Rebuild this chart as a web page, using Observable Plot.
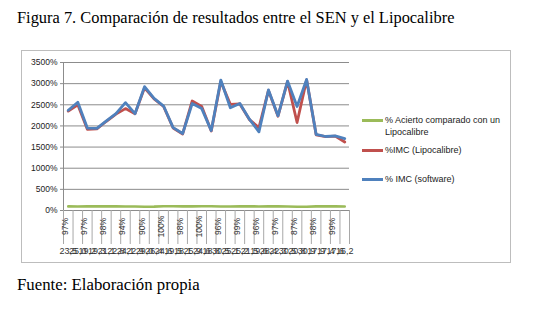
<!DOCTYPE html>
<html>
<head>
<meta charset="utf-8">
<script src="https://cdn.jsdelivr.net/npm/d3@7"></script>
<script src="https://cdn.jsdelivr.net/npm/@observablehq/plot@0.6"></script>
<style>
  html, body { margin: 0; padding: 0; background: #fff; }
  body { width: 534px; height: 313px; position: relative; overflow: hidden; }
  .title { position: absolute; left: 17px; top: 8px; font: 16.4px "Liberation Serif", serif; color: #000; white-space: nowrap; line-height: 20px; }
  .caption { position: absolute; left: 17px; top: 275px; font: 16.8px "Liberation Serif", serif; color: #000; white-space: nowrap; line-height: 20px; }
  #chart { position: absolute; left: 21px; top: 50px; }
  #chart svg { border: 1px solid #bdbdbd; display: block; }
  .legend { position: absolute; left: 362px; top: 0; font: 9px "Liberation Sans", sans-serif; color: #222; }
  .item { position: absolute; left: 0; white-space: nowrap; }
  .sw { position: absolute; left: 0; width: 21px; height: 3px; }
  .lt { position: absolute; left: 23px; line-height: 12px; }
</style>
</head>
<body>
<div class="title">Figura 7. Comparación de resultados entre el SEN y el Lipocalibre</div>
<div id="chart"></div>
<div class="caption">Fuente: Elaboración propia</div>
<script>
// % Acierto comparado con un Lipocalibre (one value per case)
const acierto = [97, 96, 97, 98, 98, 97, 94, 95, 90, 92, 100, 99, 98, 97, 100, 99, 96, 95, 99, 98, 96, 97, 97, 96, 87, 90, 98, 97, 99, 96];
// %IMC (Lipocalibre)
const imcLipocalibre = [2350, 2500, 1920, 1930, 2110, 2280, 2410, 2290, 2900, 2640, 2460, 1950, 1810, 2590, 2460, 1880, 3050, 2510, 2520, 2150, 1960, 2840, 2230, 3050, 2080, 3090, 1790, 1745, 1760, 1620];
// % IMC (software)
const imcSoftware = [2370, 2560, 1950, 1940, 2120, 2290, 2550, 2290, 2930, 2650, 2470, 1960, 1820, 2530, 2410, 1890, 3085, 2430, 2530, 2160, 1860, 2850, 2240, 3060, 2460, 3100, 1800, 1750, 1765, 1700];
// second-level category labels (IMC values)
const imcText = ["23,5", "25,0", "19,2", "19,3", "21,1", "22,8", "24,1", "22,9", "29,0", "26,4", "24,6", "19,5", "18,1", "25,9", "24,6", "18,8", "30,5", "25,1", "25,2", "21,5", "19,6", "28,4", "22,3", "30,5", "20,8", "30,9", "17,9", "17,4", "17,6", "16,2"];
const yTicks = [0, 500, 1000, 1500, 2000, 2500, 3000, 3500];

const n = acierto.length;
const idx = d3.range(n);
const labelIdx = idx.filter(i => i % 2 === 0);
const boundaries = d3.range(n + 1);

const grid = "#8c8c8c";
const chart = Plot.plot({
  width: 488,
  height: 211,
  marginLeft: 41,
  marginRight: 161,
  marginTop: 11,
  marginBottom: 52,
  style: { fontFamily: "Liberation Sans, sans-serif", fontSize: "8.5px", color: "#222", background: "#fff", overflow: "visible" },
  x: { type: "linear", domain: [0, n] },
  y: { domain: [0, 3500] },
  marks: [
    Plot.gridY(yTicks, { stroke: grid, strokeOpacity: 1, strokeWidth: 1 }),
    Plot.axisY(yTicks, { tickSize: 3, tickPadding: 3, stroke: grid, tickFormat: d => d + "%", label: null }),
    Plot.ruleX([0], { stroke: grid }),
    Plot.axisX(boundaries, { tickSize: 34, stroke: "#a8a8a8", tickFormat: () => "", label: null }),
    Plot.text(labelIdx, { x: i => i + 0.5, text: i => acierto[i] + "%", frameAnchor: "bottom", dy: 16, rotate: -90, textAnchor: "middle", fill: "#333", fontSize: 8.5 }),
    Plot.text(idx, { x: i => i + 0.5, text: i => imcText[i], frameAnchor: "bottom", dy: 43, fill: "#333", fontSize: 9 }),
    Plot.line(idx, { x: i => i + 0.5, y: i => acierto[i], stroke: "#9bbb59", strokeWidth: 2.6, strokeLinejoin: "round" }),
    Plot.line(idx, { x: i => i + 0.5, y: i => imcLipocalibre[i], stroke: "#c0504d", strokeWidth: 2.8, strokeLinejoin: "round" }),
    Plot.line(idx, { x: i => i + 0.5, y: i => imcSoftware[i], stroke: "#4f81bd", strokeWidth: 2.8, strokeLinejoin: "round" })
  ]
});
const host = document.getElementById("chart");
host.appendChild(chart);

// legend (positions in chart container coordinates)
const legendItems = [
  { lines: ["% Acierto comparado con un", "Lipocalibre"], color: "#9bbb59", y: 70 },
  { lines: ["%IMC (Lipocalibre)"], color: "#c0504d", y: 100 },
  { lines: ["% IMC (software)"], color: "#4f81bd", y: 129 }
];
const leg = document.createElement("div");
leg.className = "legend";
leg.style.left = "341px";
for (const it of legendItems) {
  const d = document.createElement("div");
  d.className = "item";
  d.style.top = it.y + "px";
  const sw = document.createElement("div");
  sw.className = "sw";
  sw.style.background = it.color;
  sw.style.top = "-1px";
  d.appendChild(sw);
  const t = document.createElement("div");
  t.className = "lt";
  t.style.top = "-6px";
  t.innerHTML = it.lines.join("<br>");
  d.appendChild(t);
  leg.appendChild(d);
}
host.appendChild(leg);
</script>
</body>
</html>
